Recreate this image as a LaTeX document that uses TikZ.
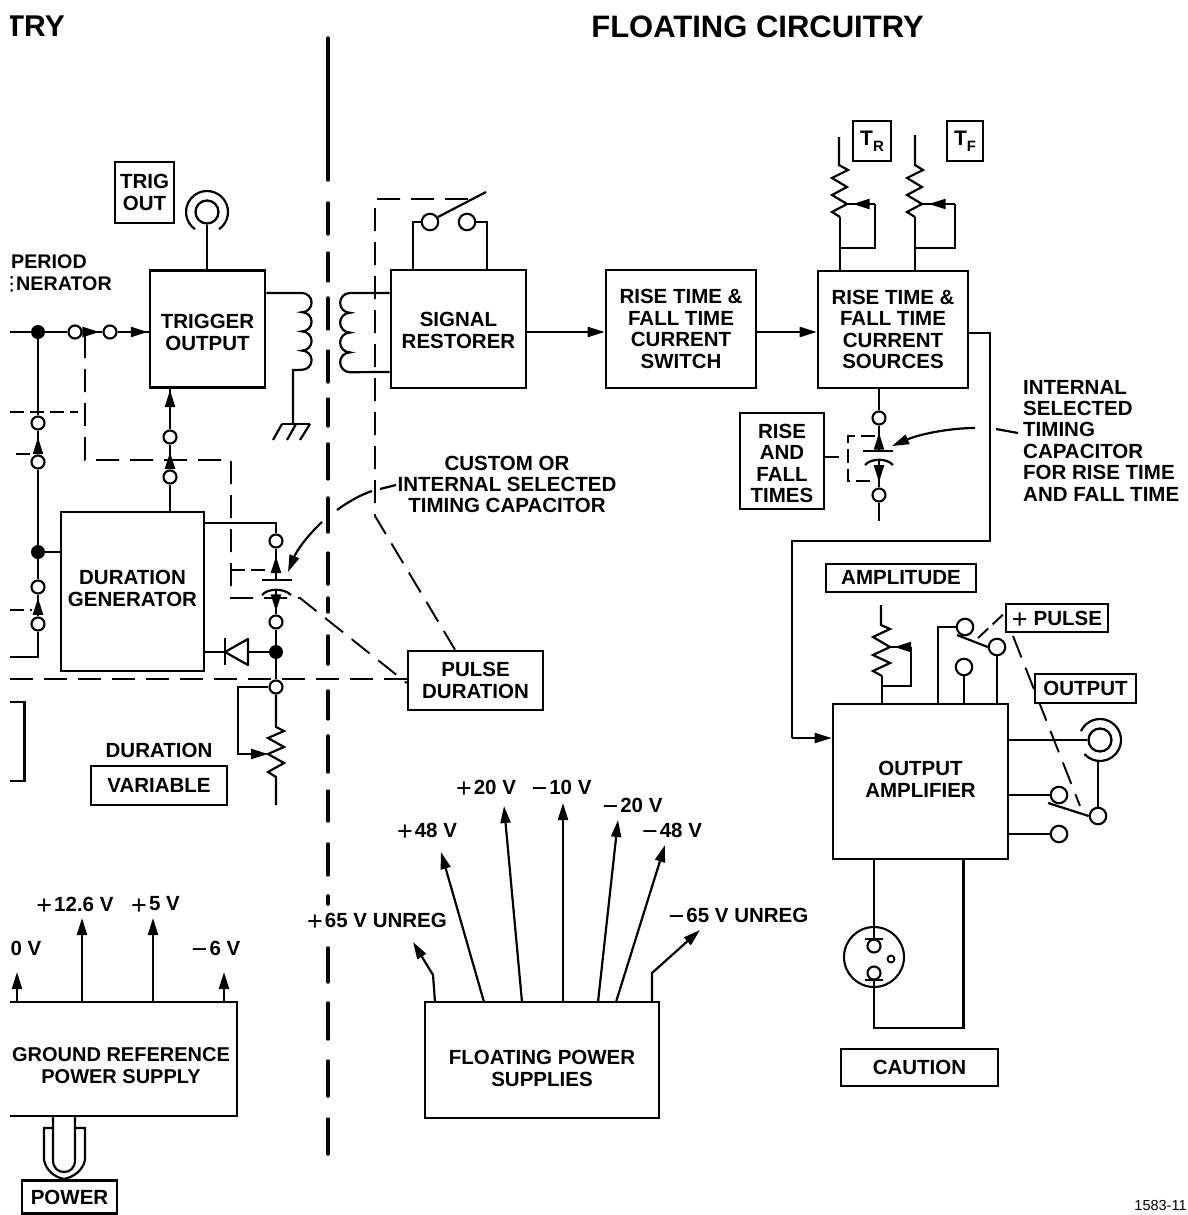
\documentclass[tikz,border=0pt]{standalone}
\usepackage{fontspec}
\setmainfont{Liberation Sans}
\usetikzlibrary{arrows.meta,decorations.markings,backgrounds,calc}
\newcommand{\bigsign}[1]{{\mdseries\fontsize{27}{21.4}\selectfont\raisebox{-3.5pt}[0pt][0pt]{#1}}}
\newcommand{\lp}{\bigsign{+}\hspace{2pt}}
\newcommand{\lm}{\bigsign{−}\hspace{2pt}}
% push a centred block of text down (on its first line) or up (on its last line)
\newcommand{\dnby}[1]{\rule{0pt}{\dimexpr 15pt+2\dimexpr #1\relax\relax}}
\newcommand{\upby}[1]{\rule[-\dimexpr 2\dimexpr #1\relax\relax]{0pt}{\dimexpr 2\dimexpr #1\relax\relax}}
\tikzset{
  x=1pt,y=-1pt,
  wire/.style={line width=2.2pt,line join=miter},
  heavy/.style={line width=2.6pt},
  dash link/.style={line width=1.9pt,dash pattern=on 23pt off 11pt},
  short link/.style={line width=1.9pt,dash pattern=on 14pt off 6pt},
  tip/.style={-{Triangle[length=17pt,width=10pt]}},
  midtip/.style={postaction={decorate},decoration={markings,mark=at position #1 with {\arrow{Triangle[length=17pt,width=10pt]}}}},
  txt/.style={font=\bfseries\fontsize{20.5}{21.4}\selectfont,align=center,inner sep=0pt},
  box/.style={txt,draw,fill=white,line width=2.6pt,inner sep=0pt},
  term/.style={circle,draw,fill=white,line width=2.1pt,inner sep=0pt,minimum size=13pt},
  bigterm/.style={term,minimum size=16.5pt},
  dot/.style={circle,fill=black,inner sep=0pt,minimum size=14pt},
  jack/.style={circle,draw,fill=white,line width=2.3pt,inner sep=0pt,minimum size=23pt},
}
\begin{document}
\begin{tikzpicture}
\useasboundingbox (0,0) rectangle (1188,1215);

% ---- titles
\begin{scope}
\clip (10,0) rectangle (100,60);
\node[txt,anchor=east,font=\bfseries\fontsize{30}{32}\selectfont] (titleL) at (65,26) {TRY};
\end{scope}
\node[txt,font=\bfseries\fontsize{31}{32}\selectfont] (titleR) at (757.5,27) {FLOATING CIRCUITRY};

% ---- boxes
\node[box,minimum width=59pt,minimum height=61pt] (trigout) at (144.5,192.5) {TRIG\\OUT};
\node[box,minimum width=115pt,minimum height=117pt] (trig) at (207.5,329) {\dnby{3pt}TRIGGER\\OUTPUT};
\node[box,minimum width=143pt,minimum height=159pt] (gen) at (132.5,591.5) {DURATION\\GENERATOR\upby{3pt}};
\node[box,minimum width=135pt,minimum height=118pt] (sig) at (458.5,329) {\dnby{1pt}SIGNAL\\RESTORER};
\node[box,minimum width=150pt,minimum height=118pt] (sw) at (681,329) {RISE TIME \&\\FALL TIME\\CURRENT\\SWITCH};
\node[box,minimum width=150pt,minimum height=117pt] (src) at (893,329.5) {RISE TIME \&\\FALL TIME\\CURRENT\\SOURCES};
\node[box,minimum width=84pt,minimum height=96pt] (rf) at (782,461) {\dnby{2pt}RISE\\AND\\FALL\\TIMES};
\node[box,minimum width=38pt,minimum height=40pt] (tr) at (872,141) {{\fontsize{21}{21}\selectfont T}{\fontsize{15}{15}\selectfont\raisebox{-6pt}{R}}};
\node[box,minimum width=36pt,minimum height=40pt] (tf) at (965,141) {{\fontsize{21}{21}\selectfont T}{\fontsize{15}{15}\selectfont\raisebox{-6pt}{F}}};
\node[box,minimum width=135pt,minimum height=59pt] (pd) at (475.5,680.5) {PULSE\\DURATION};
\node[box,minimum width=136pt,minimum height=39pt] (var) at (159,785.5) {VARIABLE};
\node[box,minimum width=150pt,minimum height=28pt] (amp) at (901,578) {AMPLITUDE};
\node[box,minimum width=102pt,minimum height=28pt] (pulse) at (1057,618) {\bigsign{+}\hspace{6pt}PULSE};
\node[box,minimum width=101pt,minimum height=29pt] (out) at (1085.5,688.5) {OUTPUT};
\node[box,minimum width=175pt,minimum height=155pt] (oa) at (920.5,781.5) {OUTPUT\\AMPLIFIER\upby{2pt}};
\node[box,minimum width=157pt,minimum height=37pt] (caut) at (919.5,1067.5) {CAUTION};
\node[box,minimum width=234pt,minimum height=116pt] (fps) at (542,1060) {\dnby{8pt}FLOATING POWER\\SUPPLIES};
\node[box,minimum width=95pt,minimum height=33pt] (pow) at (69.5,1197) {POWER};

% ---- free labels
\node[txt,font=\bfseries\fontsize{19.7}{21.4}\selectfont,anchor=west] (lper) at (11,262) {PERIOD};
\node[txt,font=\bfseries\fontsize{19.7}{21.4}\selectfont,anchor=west] (lgen) at (16,284) {NERATOR};
\fill (10.5,276) rectangle (12.5,278.5) (10.5,282.5) rectangle (12.5,285) (10.5,289) rectangle (12.5,291.5);
\node[txt] (lcus) at (507,484.5) {CUSTOM OR\\INTERNAL SELECTED\\TIMING CAPACITOR};
\node[txt,align=left,anchor=west] (lint) at (1023,440.5) {INTERNAL\\SELECTED\\TIMING\\CAPACITOR\\FOR RISE TIME\\AND FALL TIME};
\node[txt] (ldur) at (159,750) {DURATION};
\node[txt,font=\bfseries\fontsize{20}{21.4}\selectfont] (lgr) at (121,1065.5) {GROUND REFERENCE\\POWER SUPPLY};
\node[txt] (v126) at (75,904) {\lp 12.6 V};
\node[txt] (v5) at (155.5,904) {\lp 5 V};
\node[txt] (v6) at (216,948) {\lm 6 V};
\node[txt] (v0) at (26,948) {0 V};
\node[txt] (v65p) at (377,920) {\lp 65 V UNREG};
\node[txt] (v48p) at (427,830) {\lp 48 V};
\node[txt] (v20p) at (486,787) {\lp 20 V};
\node[txt] (v10) at (561.5,787) {\lm 10 V};
\node[txt] (v20m) at (632.5,805) {\lm 20 V};
\node[txt] (v48m) at (672,830) {\lm 48 V};
\node[txt] (v65m) at (738.5,915) {\lm 65 V UNREG};
\node[inner sep=0pt,font=\fontsize{14.5}{15}\selectfont] (code) at (1160.5,1205) {1583-11};

% ---- junctions and terminals, left
\node[dot] (d1) at (38,332) {};
\node[dot] (d2) at (38,552) {};
\node[dot] (d3) at (276,652) {};
\node[term] (a1) at (75,332) {};
\node[term] (a2) at (110,332) {};
\node[term] (v1) at (38,423) {};
\node[term] (v2) at (38,462) {};
\node[term] (v3) at (38,587) {};
\node[term] (v4) at (38,624) {};
\node[term] (t1) at (170,437) {};
\node[term] (t2) at (170,477) {};
\node[term] (c1) at (276,541) {};
\node[term] (c2) at (276,622) {};
\node[term] (c3) at (276,687) {};
\node[jack] (tj) at (207,212) {};
% signal restorer switch
\node[bigterm] (s1) at (430,222) {};
\node[bigterm] (s2) at (467,222) {};
% rise/fall capacitor terminals
\node[term] (e1) at (879,418) {};
\node[term] (e2) at (879,495) {};
% amplifier switches
\node[bigterm] (p1) at (965,627) {};
\node[bigterm] (p2) at (997,647) {};
\node[bigterm] (p3) at (964,667) {};
\node[bigterm] (o1) at (1059,795) {};
\node[bigterm] (o2) at (1098,816) {};
\node[bigterm] (o3) at (1059,834) {};
\node[jack] (oj) at (1100,740) {};

% ---- named coordinates
\coordinate (inL) at (10,332);
\coordinate (inB) at (10,657);
\coordinate (vB) at (38,657);
\coordinate (capT) at (276,580);
\coordinate (capB) at (276,590);
\coordinate (capTr) at (879,451);
\coordinate (capBr) at (879,461);
\coordinate (endr) at (879,521);
\coordinate (genr) at (276,523);
\coordinate (loopD) at (238,754);
\coordinate (gndT) at (293,424);

% ---- dashed mechanical links (behind everything)
\begin{scope}[on background layer]
\fill[white] (0,0) rectangle (1188,1215);
\draw[short link] (10,412) -- (78,412);
\draw[short link] (16,454) -- (32,454);
\draw[short link] (10,610) -- (32,610);
\draw[dash link] (85,335) -- (85,460) -- (231,460) -- (231,598) -- (300,598) -- (pd.west|-0,683);
\draw[short link] (231,570) -- (270,570);
\draw[dash link] (10,679) -- (pd.west|-0,679);
\draw[dash link] (468,199) -- (375,199) -- (375,516) -- (pd.north-|455,0);
\draw[short link] (875,436) -- (848,436) -- (848,481) -- (875,481);
\draw[short link] (rf.east|-0,457) -- (840,457);
\draw[short link] (978,638) -- (pulse.west|-0,613);
\draw[dash link] (1013,636) -- (1080,806);
\end{scope}

% ---- centre line
\foreach \a/\b in {37/181,202/235,252/282,297/330,350/383,398/427,443/480,497/533,552/585,597/613,635/665,690/720,735/773,790/822,843/876,895/905,947/983,1002/1040,1060/1097,1118/1155}
  \draw[line width=3.4pt,line cap=round] (328,\a+1) -- (328,\b-1);

% ---- left wiring
\draw[wire] (inL) -- (d1);
\draw[wire] (d1) -- (a1);
\draw[wire,midtip=.85] (a1) -- (a2);
\draw[wire,midtip=.97] (a2) -- (a2-|trig.west);
\draw[wire] (d1) -- (v1);
\draw[wire,midtip=.72] (v2) -- (v1);
\draw[wire] (v2) -- (d2);
\draw[wire] (d2) -- (d2-|gen.west);
\draw[wire] (d2) -- (v3);
\draw[wire,midtip=.85] (v4) -- (v3);
\draw[wire] (v4) -- (vB) -- (inB);
\draw[wire] (t2) -- (t2|-gen.north);
\draw[wire,midtip=.7] (t2) -- (t1);
\draw[wire,midtip=.97] (t1) -- (t1|-trig.south);
\draw[wire] (tj) -- (tj|-trig.north);
\draw[wire] (tj.center) ++(-55:21pt) arc[start angle=-55,end angle=235,radius=21pt];
% transformer
\coordinate (tL1) at (302,293);
\coordinate (tL2) at (302,370);
\draw[wire] (tL1-|trig.east) -- (tL1) arc[start angle=90,end angle=-90,radius=9.6pt] arc[start angle=90,end angle=-90,radius=9.6pt] arc[start angle=90,end angle=-90,radius=9.6pt] arc[start angle=90,end angle=-90,radius=9.6pt] -- (tL2-|gndT) -- (gndT);
\draw[wire] (282,424) -- (310,424);
\draw[wire] (282,424) -- (273,440);
\draw[wire] (296,424) -- (287,440);
\draw[wire] (310,424) -- (300,440);
\coordinate (tR1) at (350,293);
\coordinate (tR2) at (350,372);
\draw[wire] (tR1-|sig.west) -- (tR1) arc[start angle=90,end angle=270,radius=9.9pt] arc[start angle=90,end angle=270,radius=9.9pt] arc[start angle=90,end angle=270,radius=9.9pt] arc[start angle=90,end angle=270,radius=9.9pt] -- (tR2-|sig.west);
% signal restorer switch
\draw[wire] (s1.west) -- (413,222) -- (sig.north-|413,0);
\draw[wire] (s2.east) -- (487,222) -- (sig.north-|487,0);
\draw[wire] (438,217) -- (486,192);
% duration capacitor
\draw[wire] (gen.east|-genr) -- (genr) -- (c1);
\draw[wire,midtip=.76] (capT) -- (c1);
\draw[wire,midtip=.87] (capB) -- (c2);
\draw[wire] (262,580) -- (292,580);
\draw[wire] (262,595) .. controls (268,588) and (284,588) .. (291,595);
\draw[wire] (c2) -- (d3);
\draw[wire] (d3) -- (c3);
% diode
\draw[wire] (gen.east|-d3) -- (225,652);
\draw[wire] (d3) -- (248,652);
\draw[wire] (225,638) -- (225,665);
\draw[wire,line join=round] (225,652) -- (248,639) -- (248,665) -- cycle;
% duration resistor
\draw[wire] (c3) -- (276,727) -- ++(8,4) -- ++(-16,7) -- ++(16,9) -- ++(-16,7) coordinate (wD) -- ++(16,9) -- ++(-16,9) -- ++(8,5) -- (276,805);
\draw[wire,tip] (c3.west) -| (loopD) -- (wD);
% bracket
\draw[wire] (10,702) -- (24.5,702) -- (24.5,781) -- (10,781);
% leader custom capacitor
\draw[wire] (396,485) -- (380,489);
\draw[wire] (372,491) .. controls (360,495) and (348,502) .. (337,510);
\draw[wire,tip] (322,522) .. controls (308,535) and (297,550) .. (288,572);

% ---- right wiring
\draw[wire,tip] (sig.east|-0,332) -- (sw.west|-0,332);
\draw[wire,tip] (sw.east|-0,332) -- (src.west|-0,332);
\draw[wire] (src.east|-0,333) -- (990,333) -- (990,541) -- (792,541) -- (792,738);
\draw[wire,tip] (792,738) -- (oa.west|-0,738);
% T_R resistor
\draw[wire] (839,137) -- (839,165) -- ++(9,5) -- ++(-16,8) -- ++(15,9) -- ++(-15,8) -- ++(15,9) coordinate (wR) -- ++(-15,8) -- ++(8,5) coordinate (bR);
\draw[wire] (bR) -- (bR|-src.north);
\coordinate (lR) at (875,248);
\draw[wire] (bR|-lR) -- (lR) -- (lR|-wR);
\draw[wire,midtip=.8] (lR|-wR) -- (wR);
% T_F resistor
\draw[wire] (915,135) -- (915,165) -- ++(8,5) -- ++(-16,8) -- ++(15,9) -- ++(-15,8) -- ++(15,9) coordinate (wF) -- ++(-15,8) -- ++(8,5) coordinate (bF);
\draw[wire] (bF) -- (bF|-src.north);
\coordinate (lF) at (955,248);
\draw[wire] (bF|-lF) -- (lF) -- (lF|-wF);
\draw[wire,midtip=.8] (lF|-wF) -- (wF);
% rise/fall capacitor
\draw[wire] (e1) -- (e1|-src.south);
\draw[wire,midtip=.72] (capTr) -- (e1);
\draw[wire,midtip=.8] (capBr) -- (e2);
\draw[wire] (e2) -- (endr);
\draw[wire] (863,451) -- (893,451);
\draw[wire] (865,465) .. controls (871,458) and (887,458) .. (893,465);
% leader internal capacitor
\draw[wire] (1018,433) -- (996,429);
\draw[wire,tip] (975,428) .. controls (950,428) and (920,434) .. (892,446);
% amplitude resistor
\draw[wire] (881,605) -- (881,625) -- ++(9,4) -- ++(-17,8) -- ++(17,10) coordinate (wA) -- ++(-17,8) -- ++(17,8) -- ++(-17,8) -- ++(9,5) coordinate (bA);
\draw[wire] (bA) -- (bA|-oa.north);
\coordinate (lA) at (911,686);
\draw[wire] (bA|-lA) -- (lA) -- (lA|-wA);
\draw[wire,midtip=.8] (lA|-wA) -- (wA);
% pulse switch
\coordinate (p1c) at (938,627);
\draw[wire] (p1.west) -- (p1c) -- (p1c|-oa.north);
\draw[wire] (p3) -- (p3|-oa.north);
\draw[wire] (p2) -- (p2|-oa.north);
\draw[wire] (957,635) -- (p2.west);
% output
\draw[wire] (oj) -- (oj-|oa.east);
\draw[wire] (oj.center) ++(155:21pt) arc[start angle=155,end angle=-138,radius=21pt];
\draw[wire] (o2) -- (o2|-0,761);
\draw[wire] (o1) -- (o1-|oa.east);
\draw[wire] (o3) -- (o3-|oa.east);
\draw[wire] (1048,803) -- (o2.west);
% lamp
\node[circle,draw,line width=2.1pt,inner sep=0pt,minimum size=60pt] (lamp) at (874,957) {};
\node[circle,draw,line width=2.1pt,inner sep=0pt,minimum size=13pt] (lp1) at (874,946) {};
\node[circle,draw,line width=2.1pt,inner sep=0pt,minimum size=13pt] (lp2) at (874,973) {};
\node[circle,draw,line width=1.8pt,inner sep=0pt,minimum size=7pt] (lp3) at (891,959) {};
\draw[wire] (lp1.north) -- (lp1|-oa.south);
\draw[wire] (865,939) -- (883,939);
\draw[wire] (865,980) -- (883,980);
\coordinate (lampB) at (874,1028);
\coordinate (lampR) at (963.5,1028);
\draw[wire] (lp2.south) -- (lampB) -- (lampR) -- (lampR|-oa.south);

% ---- power supplies
\draw[heavy] (10,1002) -- (237,1002) -- (237,1116) -- (10,1116);
\draw[wire,tip] (17,1002) -- (17,972);
\draw[wire,tip] (82,1002) -- (82,918);
\draw[wire,tip] (153,1002) -- (153,918);
\draw[wire,tip] (224,1002) -- (224,972);
% power plug
\draw[wire] (53,1116) -- (53,1160) .. controls (53,1168) and (58,1172) .. (64,1172) .. controls (70,1172) and (75,1168) .. (75,1160) -- (75,1116);
\draw[wire] (53,1128) -- (44,1128) -- (44,1160) .. controls (46,1170) and (54,1177) .. (64,1179) .. controls (74,1177) and (83,1170) .. (85,1160) -- (85,1128) -- (75,1128);
% floating supplies arrows
\draw[wire,tip] (435,1002) -- (433,975) -- (413,942);
\draw[wire,tip] (484,1002) -- (441,852);
\draw[wire,tip] (522,1002) -- (504,806);
\draw[wire,tip] (563,1002) -- (563,803);
\draw[wire,tip] (598,1002) -- (618,820);
\draw[wire,tip] (616,1002) -- (665,845);
\draw[wire,tip] (652,1002) -- (652,973) -- (700,930);
\end{tikzpicture}
\end{document}
